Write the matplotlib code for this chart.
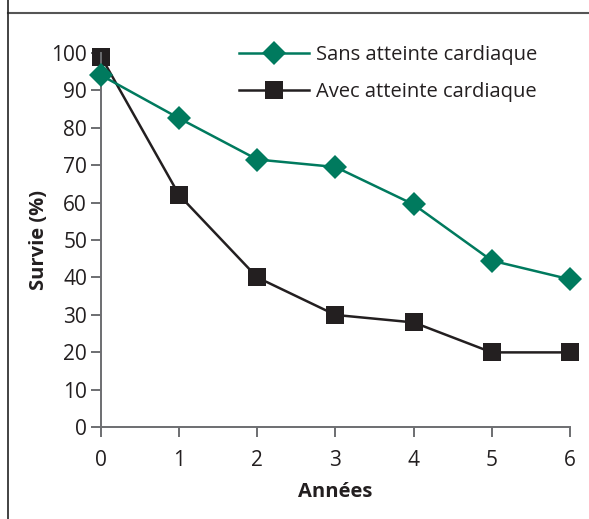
import matplotlib.pyplot as plt
from matplotlib.lines import Line2D

plt.rcParams['font.family'] = ['Open Sans', 'DejaVu Sans']

# Data
years = [0, 1, 2, 3, 4, 5, 6]
sans_atteinte = [94, 82.5, 71.5, 69.5, 59.5, 44.5, 39.5]
avec_atteinte = [99, 62, 40, 30, 28, 20, 20]
yticks = list(range(0, 101, 10))

green = '#007a5e'
dark = '#231f20'
axis_grey = '#6d6e71'

fig = plt.figure(figsize=(5.89, 5.19), dpi=100)
ax = fig.add_axes([0.1715, 0.1767, 0.7962, 0.7216])

ax.plot(years, sans_atteinte, color=green, linewidth=1.8, marker='D',
        markersize=12, markeredgewidth=0, label='Sans atteinte cardiaque',
        clip_on=False, zorder=3)
ax.plot(years, avec_atteinte, color=dark, linewidth=1.8, marker='s',
        markersize=12.5, markeredgewidth=0, label='Avec atteinte cardiaque',
        clip_on=False, zorder=2)

ax.set_xlim(0, 6)
ax.set_ylim(0, 100)
ax.set_xticks(years)
ax.set_yticks(yticks)

for side in ['top', 'right']:
    ax.spines[side].set_visible(False)
for side in ['left', 'bottom']:
    ax.spines[side].set_color(axis_grey)
    ax.spines[side].set_linewidth(1.4)

ax.tick_params(axis='both', colors=axis_grey, width=1.4, length=7,
               labelsize=15, labelcolor='#231f20')
ax.tick_params(axis='x', pad=9)
ax.tick_params(axis='y', pad=3)

ax.set_xlabel('Années', fontsize=14.5, fontweight='bold', color='#231f20', labelpad=8)
ax.set_ylabel('Survie (%)', fontsize=14.5, fontweight='bold', color='#231f20', labelpad=2)

ax.legend(loc='upper left', bbox_to_anchor=(0.255, 1.07), frameon=False,
          fontsize=14.5, handlelength=3.5, handletextpad=0.35, labelspacing=0.85,
          labelcolor='#231f20')

# outer frame lines of the figure panel
fig.add_artist(Line2D([0.0128, 1.0], [0.975, 0.975], color='#555555', linewidth=1.5))
fig.add_artist(Line2D([0.0128, 0.0128], [0.0, 1.0], color='#222222', linewidth=1.2))

fig.savefig('out.png', dpi=100)
